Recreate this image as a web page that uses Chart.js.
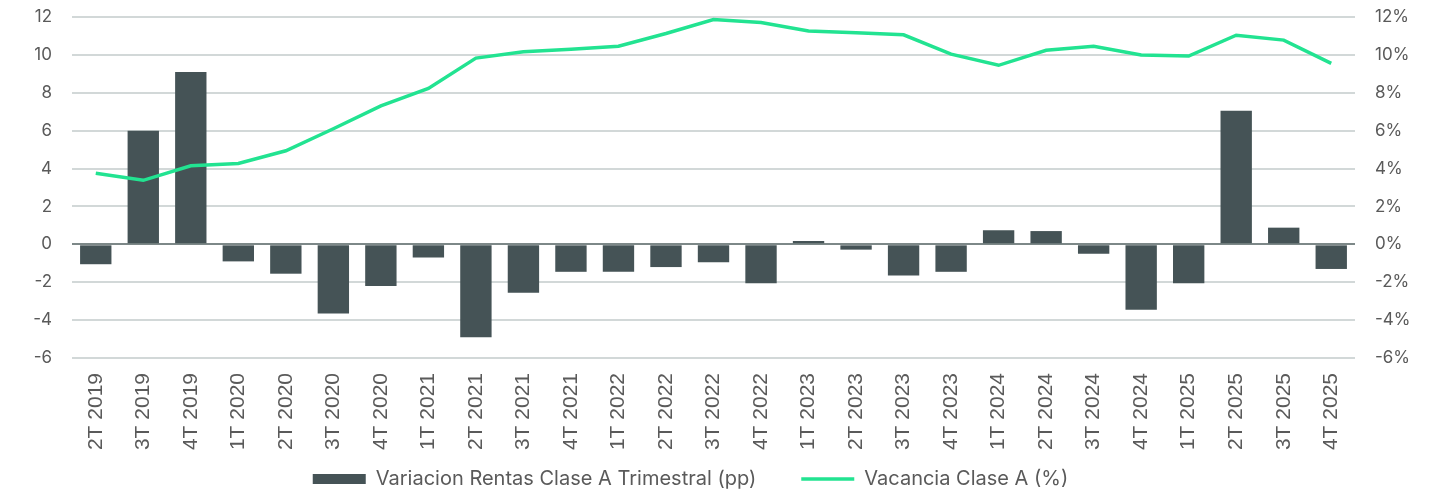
<!DOCTYPE html>
<html>
<head>
<meta charset="utf-8">
<script src="https://cdn.jsdelivr.net/npm/chart.js@4.4.1/dist/chart.umd.min.js"></script>
<style>
html,body{margin:0;padding:0;background:#ffffff;}
#wrap{width:1437px;height:492px;}
</style>
</head>
<body>
<div id="wrap"><canvas id="c" width="1437" height="492"></canvas></div>
<script>
const categories = ['2T 2019','3T 2019','4T 2019','1T 2020','2T 2020','3T 2020','4T 2020','1T 2021','2T 2021','3T 2021','4T 2021','1T 2022','2T 2022','3T 2022','4T 2022','1T 2023','2T 2023','3T 2023','4T 2023','1T 2024','2T 2024','3T 2024','4T 2024','1T 2025','2T 2025','3T 2025','4T 2025'];
const rentasVariacion = [-1.05, 6.0, 9.1, -0.9, -1.55, -3.65, -2.2, -0.7, -4.9, -2.55, -1.45, -1.45, -1.2, -0.95, -2.05, 0.17, -0.28, -1.65, -1.45, 0.75, 0.7, -0.5, -3.45, -2.05, 7.05, 0.88, -1.3];
const vacancia = [3.75, 3.38, 4.15, 4.27, 4.94, 6.1, 7.31, 8.23, 9.83, 10.16, 10.3, 10.46, 11.13, 11.87, 11.71, 11.26, 11.17, 11.06, 10.04, 9.45, 10.24, 10.46, 9.99, 9.94, 11.04, 10.78, 9.55];
const seriesLabels = ['Variacion Rentas Clase A Trimestral (pp)', 'Vacancia Clase A (%)'];
const axisMin = -6, axisMax = 12, axisStep = 2;

const tickColor = '#5a5a5a';
const tickFont = {family: 'Inter, "Noto Sans", sans-serif', size: 17};
const legendPadding = 45;
const legendFontSize = 20;

// Layout-only tweak: places the legend box so its row is centred a little left of the canvas centre
const legendPlacement = {
  id: 'legendPlacement',
  afterLayout(chart) {
    const lg = chart.legend;
    if (!lg) return;
    lg.left = 0;
    lg.right = 1381;
    lg.width = 1381;
    lg.top = 479 - legendPadding - legendFontSize / 2;
    lg.bottom = 492;
    lg.height = lg.bottom - lg.top;
  }
};

const trimVerticalPadding = s => { s.paddingTop = 10; s.paddingBottom = 10; };

new Chart(document.getElementById('c'), {
  data: {
    labels: categories,
    datasets: [
      {
        type: 'bar',
        label: seriesLabels[0],
        data: rentasVariacion,
        backgroundColor: '#455356',
        borderWidth: 0,
        barPercentage: 0.66,
        categoryPercentage: 1.0,
        yAxisID: 'y',
        order: 1,
        pointStyle: 'rect'
      },
      {
        type: 'line',
        label: seriesLabels[1],
        data: vacancia,
        borderColor: '#22e391',
        backgroundColor: '#22e391',
        borderWidth: 3.5,
        pointRadius: 0,
        pointHoverRadius: 0,
        tension: 0,
        fill: false,
        yAxisID: 'y1',
        order: 0,
        pointStyle: 'line'
      }
    ]
  },
  plugins: [legendPlacement],
  options: {
    responsive: false,
    devicePixelRatio: 1,
    animation: false,
    layout: {padding: {top: 17, right: 0, bottom: 0, left: 0}},
    plugins: {
      tooltip: {enabled: false},
      legend: {
        position: 'bottom',
        maxHeight: 34,
        labels: {
          usePointStyle: true,
          pointStyleWidth: 53,
          boxHeight: 10,
          padding: legendPadding,
          color: tickColor,
          font: {family: 'Inter, "Noto Sans", sans-serif', size: legendFontSize},
          sort: (a, b) => a.datasetIndex - b.datasetIndex
        }
      }
    },
    scales: {
      x: {
        grid: {display: false, drawTicks: false},
        border: {display: false},
        ticks: {
          autoSkip: false,
          minRotation: 90,
          maxRotation: 90,
          padding: 15,
          color: tickColor,
          font: {family: '"Liberation Sans", Arial, sans-serif', size: 21}
        },
        afterFit: s => { s.height = 100; }
      },
      y: {
        position: 'left',
        min: axisMin,
        max: axisMax,
        ticks: {stepSize: axisStep, padding: 20, color: tickColor, font: tickFont},
        grid: {
          drawTicks: false,
          lineWidth: 2,
          color: ctx => (ctx.tick && ctx.tick.value === 0) ? '#7d8888' : '#d2d8d8'
        },
        border: {display: false},
        afterFit: s => { s.width = 72; trimVerticalPadding(s); }
      },
      y1: {
        position: 'right',
        min: axisMin,
        max: axisMax,
        ticks: {stepSize: axisStep, padding: 20, color: tickColor, font: tickFont, callback: v => v + '%'},
        grid: {display: false, drawTicks: false},
        border: {display: false},
        afterFit: s => { s.width = 82; trimVerticalPadding(s); }
      }
    }
  }
});
</script>
</body>
</html>
